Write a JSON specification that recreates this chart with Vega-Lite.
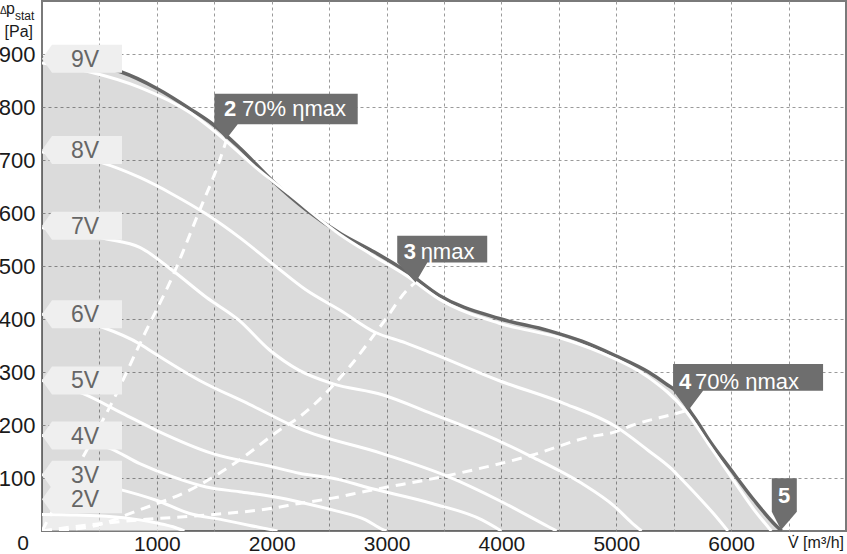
{
  "$schema": "https://vega.github.io/schema/vega-lite/v6.json",
  "width": 804,
  "height": 530,
  "autosize": {"type": "none"},
  "padding": {"left": 42, "top": 1, "right": 1, "bottom": 23},
  "background": "white",
  "config": {
    "view": {"stroke": "#7a7a7a", "strokeWidth": 2},
    "font": "Liberation Sans",
    "text": {"font": "Liberation Sans"}
  },
  "datasets": {
    "curves": [
      {"s": "env", "v": 0, "p": 892}, {"s": "env", "v": 400, "p": 881}, {"s": "env", "v": 690, "p": 866}, {"s": "env", "v": 1000, "p": 835}, {"s": "env", "v": 1300, "p": 795}, {"s": "env", "v": 1490, "p": 767}, {"s": "env", "v": 1720, "p": 723}, {"s": "env", "v": 2010, "p": 660}, {"s": "env", "v": 2300, "p": 606}, {"s": "env", "v": 2600, "p": 561}, {"s": "env", "v": 2880, "p": 528}, {"s": "env", "v": 3170, "p": 490}, {"s": "env", "v": 3455, "p": 445}, {"s": "env", "v": 3980, "p": 401}, {"s": "env", "v": 4410, "p": 378}, {"s": "env", "v": 4700, "p": 358}, {"s": "env", "v": 4990, "p": 331}, {"s": "env", "v": 5280, "p": 300}, {"s": "env", "v": 5430, "p": 278}, {"s": "env", "v": 5570, "p": 253}, {"s": "env", "v": 5625, "p": 232}, {"s": "env", "v": 5710, "p": 205}, {"s": "env", "v": 5800, "p": 174}, {"s": "env", "v": 6000, "p": 115}, {"s": "env", "v": 6200, "p": 58}, {"s": "env", "v": 6400, "p": 8}, {"s": "env", "v": 6440, "p": 0},
      {"s": "9V", "v": 0, "p": 883}, {"s": "9V", "v": 400, "p": 867}, {"s": "9V", "v": 850, "p": 837}, {"s": "9V", "v": 1290, "p": 789}, {"s": "9V", "v": 1580, "p": 740}, {"s": "9V", "v": 1860, "p": 686}, {"s": "9V", "v": 2150, "p": 636}, {"s": "9V", "v": 2590, "p": 560}, {"s": "9V", "v": 2880, "p": 520}, {"s": "9V", "v": 3170, "p": 482}, {"s": "9V", "v": 3455, "p": 438}, {"s": "9V", "v": 3980, "p": 392}, {"s": "9V", "v": 4500, "p": 365}, {"s": "9V", "v": 4850, "p": 338}, {"s": "9V", "v": 5280, "p": 290}, {"s": "9V", "v": 5610, "p": 225}, {"s": "9V", "v": 5800, "p": 165}, {"s": "9V", "v": 6000, "p": 102}, {"s": "9V", "v": 6200, "p": 40}, {"s": "9V", "v": 6350, "p": 0},
      {"s": "8V", "v": 0, "p": 715}, {"s": "8V", "v": 518, "p": 695}, {"s": "8V", "v": 851, "p": 667}, {"s": "8V", "v": 1140, "p": 635}, {"s": "8V", "v": 1430, "p": 598}, {"s": "8V", "v": 1719, "p": 554}, {"s": "8V", "v": 2008, "p": 504}, {"s": "8V", "v": 2297, "p": 455}, {"s": "8V", "v": 2600, "p": 416}, {"s": "8V", "v": 2900, "p": 375}, {"s": "8V", "v": 3166, "p": 355}, {"s": "8V", "v": 3400, "p": 335}, {"s": "8V", "v": 3976, "p": 284}, {"s": "8V", "v": 4554, "p": 240}, {"s": "8V", "v": 4988, "p": 198}, {"s": "8V", "v": 5278, "p": 152}, {"s": "8V", "v": 5477, "p": 118}, {"s": "8V", "v": 5567, "p": 98}, {"s": "8V", "v": 5712, "p": 65}, {"s": "8V", "v": 5850, "p": 32}, {"s": "8V", "v": 5972, "p": 0},
      {"s": "7V", "v": 0, "p": 572}, {"s": "7V", "v": 561, "p": 551}, {"s": "7V", "v": 851, "p": 535}, {"s": "7V", "v": 1140, "p": 491}, {"s": "7V", "v": 1430, "p": 441}, {"s": "7V", "v": 1719, "p": 397}, {"s": "7V", "v": 1979, "p": 342}, {"s": "7V", "v": 2240, "p": 303}, {"s": "7V", "v": 2529, "p": 278}, {"s": "7V", "v": 2963, "p": 257}, {"s": "7V", "v": 3397, "p": 221}, {"s": "7V", "v": 3831, "p": 184}, {"s": "7V", "v": 4265, "p": 140}, {"s": "7V", "v": 4699, "p": 90}, {"s": "7V", "v": 4988, "p": 46}, {"s": "7V", "v": 5133, "p": 16}, {"s": "7V", "v": 5220, "p": 0},
      {"s": "6V", "v": 0, "p": 409}, {"s": "6V", "v": 532, "p": 384}, {"s": "6V", "v": 851, "p": 353}, {"s": "6V", "v": 937, "p": 341}, {"s": "6V", "v": 1372, "p": 284}, {"s": "6V", "v": 1806, "p": 239}, {"s": "6V", "v": 2240, "p": 193}, {"s": "6V", "v": 2963, "p": 146}, {"s": "6V", "v": 3542, "p": 102}, {"s": "6V", "v": 3976, "p": 58}, {"s": "6V", "v": 4410, "p": 8}, {"s": "6V", "v": 4480, "p": 0},
      {"s": "5V", "v": 0, "p": 284}, {"s": "5V", "v": 358, "p": 259}, {"s": "5V", "v": 700, "p": 222}, {"s": "5V", "v": 995, "p": 190}, {"s": "5V", "v": 1487, "p": 146}, {"s": "5V", "v": 2008, "p": 121}, {"s": "5V", "v": 2240, "p": 109}, {"s": "5V", "v": 2587, "p": 97}, {"s": "5V", "v": 2818, "p": 83}, {"s": "5V", "v": 3397, "p": 52}, {"s": "5V", "v": 3831, "p": 21}, {"s": "5V", "v": 4000, "p": 0},
      {"s": "4V", "v": 0, "p": 180}, {"s": "4V", "v": 590, "p": 156}, {"s": "4V", "v": 851, "p": 127}, {"s": "4V", "v": 1140, "p": 102}, {"s": "4V", "v": 1430, "p": 83}, {"s": "4V", "v": 1719, "p": 74}, {"s": "4V", "v": 2008, "p": 65}, {"s": "4V", "v": 2297, "p": 52}, {"s": "4V", "v": 2560, "p": 38}, {"s": "4V", "v": 2818, "p": 21}, {"s": "4V", "v": 2963, "p": 3}, {"s": "4V", "v": 3000, "p": 0},
      {"s": "3V", "v": 0, "p": 106}, {"s": "3V", "v": 648, "p": 80}, {"s": "3V", "v": 995, "p": 58}, {"s": "3V", "v": 1285, "p": 33}, {"s": "3V", "v": 1574, "p": 21}, {"s": "3V", "v": 1800, "p": 11}, {"s": "3V", "v": 2008, "p": 2}, {"s": "3V", "v": 2050, "p": 0},
      {"s": "2V", "v": 0, "p": 31}, {"s": "2V", "v": 300, "p": 30}, {"s": "2V", "v": 560, "p": 28}, {"s": "2V", "v": 850, "p": 21}, {"s": "2V", "v": 1000, "p": 15}, {"s": "2V", "v": 1140, "p": 8}, {"s": "2V", "v": 1240, "p": 0},
      {"s": "e2", "v": 0, "p": 0}, {"s": "e2", "v": 95, "p": 39}, {"s": "e2", "v": 388, "p": 152}, {"s": "e2", "v": 648, "p": 259}, {"s": "e2", "v": 880, "p": 366}, {"s": "e2", "v": 1140, "p": 482}, {"s": "e2", "v": 1370, "p": 604}, {"s": "e2", "v": 1545, "p": 698}, {"s": "e2", "v": 1603, "p": 736},
      {"s": "e3", "v": 0, "p": 0}, {"s": "e3", "v": 417, "p": 8}, {"s": "e3", "v": 851, "p": 40}, {"s": "e3", "v": 1285, "p": 77}, {"s": "e3", "v": 1719, "p": 134}, {"s": "e3", "v": 2066, "p": 190}, {"s": "e3", "v": 2240, "p": 215}, {"s": "e3", "v": 2674, "p": 309}, {"s": "e3", "v": 2963, "p": 391}, {"s": "e3", "v": 3194, "p": 458}, {"s": "e3", "v": 3253, "p": 469},
      {"s": "e4", "v": 0, "p": 0}, {"s": "e4", "v": 272, "p": 8}, {"s": "e4", "v": 851, "p": 21}, {"s": "e4", "v": 1430, "p": 30}, {"s": "e4", "v": 2008, "p": 43}, {"s": "e4", "v": 2240, "p": 52}, {"s": "e4", "v": 2529, "p": 62}, {"s": "e4", "v": 2818, "p": 75}, {"s": "e4", "v": 3542, "p": 105}, {"s": "e4", "v": 4265, "p": 143}, {"s": "e4", "v": 4757, "p": 177}, {"s": "e4", "v": 4988, "p": 187}, {"s": "e4", "v": 5133, "p": 199}, {"s": "e4", "v": 5509, "p": 221}, {"s": "e4", "v": 5625, "p": 228}
    ],
    "labels": [
      {"label": "9V", "v": 0, "p": 891},
      {"label": "8V", "v": 0, "p": 719},
      {"label": "7V", "v": 0, "p": 576},
      {"label": "6V", "v": 0, "p": 409},
      {"label": "5V", "v": 0, "p": 284},
      {"label": "4V", "v": 0, "p": 180},
      {"label": "3V", "v": 0, "p": 106},
      {"label": "2V", "v": 0, "p": 60}
    ],
    "callouts": [
      {"id": "2", "v": 1603, "p": 739, "rest": "70% ηmax"},
      {"id": "3", "v": 3253, "p": 469, "rest": "ηmax"},
      {"id": "4", "v": 5625, "p": 227, "rest": "70% ηmax"},
      {"id": "5", "v": 6435, "p": 2, "rest": ""}
    ],
    "corner": [{"v": 0, "p": 1000}],
    "origin": [{"v": 0, "p": 0}],
    "xend": [{"v": 7000, "p": 0}]
  },
  "encoding": {
    "x": {
      "field": "v", "type": "quantitative",
      "scale": {"domain": [0, 7000], "nice": false},
      "axis": {
        "title": null, "domain": false, "ticks": false, "grid": true,
        "values": [500, 1000, 1500, 2000, 2500, 3000, 3500, 4000, 4500, 5000, 5500, 6000, 6500],
        "labelExpr": "datum.value % 1000 === 0 ? format(datum.value, 'd') : ''",
        "labelFontSize": 21, "labelColor": "#1a1a1a", "labelPadding": 2, "labelFlush": false,
        "labelOverlap": false, "labelBaseline": "top", "labelFont": "Liberation Sans",
        "gridColor": "#9a9a9a", "gridDash": [3, 3], "gridWidth": 1
      }
    },
    "y": {
      "field": "p", "type": "quantitative",
      "scale": {"domain": [0, 1000], "nice": false},
      "axis": {
        "title": null, "domain": false, "ticks": false, "grid": true,
        "values": [100, 200, 300, 400, 500, 600, 700, 800, 900],
        "format": "d",
        "labelFontSize": 22, "labelColor": "#1a1a1a", "labelPadding": 7,
        "labelOverlap": false, "labelFont": "Liberation Sans",
        "gridColor": "#9a9a9a", "gridDash": [3, 3], "gridWidth": 1
      }
    }
  },
  "layer": [
    {
      "data": {"name": "curves"},
      "transform": [{"filter": "datum.s === 'env'"}],
      "mark": {"type": "area", "fill": "#000000", "fillOpacity": 0.14, "interpolate": "monotone", "clip": true}
    },
    {
      "data": {"name": "curves"},
      "transform": [{"filter": "datum.s === '2V'"}],
      "mark": {"type": "area", "fill": "#ffffff", "fillOpacity": 0.5, "interpolate": "monotone", "clip": true}
    },
    {
      "data": {"name": "curves"},
      "transform": [{"filter": "datum.s === 'env'"}],
      "mark": {"type": "line", "stroke": "#666666", "strokeWidth": 3.5, "interpolate": "monotone", "clip": true}
    },
    {
      "data": {"name": "curves"},
      "transform": [{"filter": "indexof(['9V','8V','7V','6V','5V','4V','3V','2V'], datum.s) >= 0"}],
      "mark": {"type": "line", "stroke": "#ffffff", "strokeWidth": 3, "interpolate": "monotone", "clip": true},
      "encoding": {"detail": {"field": "s"}}
    },
    {
      "data": {"name": "curves"},
      "transform": [{"filter": "indexof(['e2','e3','e4'], datum.s) >= 0"}],
      "mark": {"type": "line", "stroke": "#ffffff", "strokeWidth": 3, "strokeDash": [10, 7], "interpolate": "monotone", "clip": true},
      "encoding": {"detail": {"field": "s"}}
    },
    {
      "data": {"name": "labels"},
      "mark": {"type": "point", "filled": true, "opacity": 1, "fill": "#efefef", "strokeWidth": 0, "size": 40000,
        "shape": "M0,0L0.1,-0.14L0.8,-0.14L0.8,0.14L0.1,0.14Z"}
    },
    {
      "data": {"name": "labels"},
      "mark": {"type": "text", "align": "center", "baseline": "middle", "dx": 43, "dy": 1, "fontSize": 23, "fill": "#666666"},
      "encoding": {"text": {"field": "label"}}
    },
    {
      "data": {"name": "callouts"},
      "mark": {"type": "point", "filled": true, "opacity": 1, "fill": "#6e6e6e", "strokeWidth": 0, "size": 40000},
      "encoding": {
        "shape": {
          "field": "id", "type": "nominal", "legend": null,
          "scale": {
            "domain": ["2", "3", "4", "5"],
            "range": [
              "M0,0L-0.117,-0.15L-0.117,-0.455L1.316,-0.455L1.316,-0.15L0.116,-0.15Z",
              "M0,0L-0.184,-0.2L-0.184,-0.467L0.716,-0.467L0.716,-0.2L0.117,-0.2Z",
              "M0,0L-0.15,-0.2L-0.15,-0.467L1.35,-0.467L1.35,-0.2L0.15,-0.2Z",
              "M0,0L-0.093,-0.183L-0.093,-0.517L0.157,-0.517L0.157,-0.183Z"
            ]
          }
        }
      }
    },
    {
      "data": {"name": "callouts"},
      "transform": [{"filter": "datum.id === '2'"}],
      "mark": {"type": "text", "align": "left", "baseline": "alphabetic", "dx": -2, "dy": -23, "fontSize": 22, "fontWeight": "bold", "fill": "#ffffff"},
      "encoding": {"text": {"field": "id"}}
    },
    {
      "data": {"name": "callouts"},
      "transform": [{"filter": "datum.id === '2'"}],
      "mark": {"type": "text", "align": "left", "baseline": "alphabetic", "dx": 16, "dy": -23, "fontSize": 22, "fill": "#ffffff"},
      "encoding": {"text": {"field": "rest"}}
    },
    {
      "data": {"name": "callouts"},
      "transform": [{"filter": "datum.id === '3'"}],
      "mark": {"type": "text", "align": "left", "baseline": "alphabetic", "dx": -12, "dy": -23, "fontSize": 22, "fontWeight": "bold", "fill": "#ffffff"},
      "encoding": {"text": {"field": "id"}}
    },
    {
      "data": {"name": "callouts"},
      "transform": [{"filter": "datum.id === '3'"}],
      "mark": {"type": "text", "align": "left", "baseline": "alphabetic", "dx": 5, "dy": -23, "fontSize": 22, "fill": "#ffffff"},
      "encoding": {"text": {"field": "rest"}}
    },
    {
      "data": {"name": "callouts"},
      "transform": [{"filter": "datum.id === '4'"}],
      "mark": {"type": "text", "align": "left", "baseline": "alphabetic", "dx": -9, "dy": -22, "fontSize": 22, "fontWeight": "bold", "fill": "#ffffff"},
      "encoding": {"text": {"field": "id"}}
    },
    {
      "data": {"name": "callouts"},
      "transform": [{"filter": "datum.id === '4'"}],
      "mark": {"type": "text", "align": "left", "baseline": "alphabetic", "dx": 7, "dy": -22, "fontSize": 22, "fill": "#ffffff"},
      "encoding": {"text": {"field": "rest"}}
    },
    {
      "data": {"name": "callouts"},
      "transform": [{"filter": "datum.id === '5'"}],
      "mark": {"type": "text", "align": "center", "baseline": "alphabetic", "dx": 3, "dy": -27, "fontSize": 22, "fontWeight": "bold", "fill": "#ffffff"},
      "encoding": {"text": {"field": "id"}}
    },
    {
      "data": {"name": "corner"},
      "mark": {"type": "text", "align": "left", "baseline": "alphabetic", "dx": -42, "dy": 13, "fontSize": 10, "fill": "#1a1a1a", "text": "Δ"}
    },
    {
      "data": {"name": "corner"},
      "mark": {"type": "text", "align": "left", "baseline": "alphabetic", "dx": -36, "dy": 13, "fontSize": 16, "fill": "#1a1a1a", "text": "p"}
    },
    {
      "data": {"name": "corner"},
      "mark": {"type": "text", "align": "left", "baseline": "alphabetic", "dx": -27, "dy": 19, "fontSize": 12, "fill": "#1a1a1a", "text": "stat"}
    },
    {
      "data": {"name": "corner"},
      "mark": {"type": "text", "align": "right", "baseline": "alphabetic", "dx": -9, "dy": 36, "fontSize": 16, "fill": "#1a1a1a", "text": "[Pa]"}
    },
    {
      "data": {"name": "origin"},
      "mark": {"type": "text", "align": "center", "baseline": "alphabetic", "dx": -19, "dy": 19, "fontSize": 21, "fill": "#1a1a1a", "text": "0"}
    },
    {
      "data": {"name": "xend"},
      "mark": {"type": "text", "align": "right", "baseline": "alphabetic", "dx": -2, "dy": 17, "fontSize": 16, "fill": "#1a1a1a", "text": "V̇ [m³/h]"}
    }
  ]
}
